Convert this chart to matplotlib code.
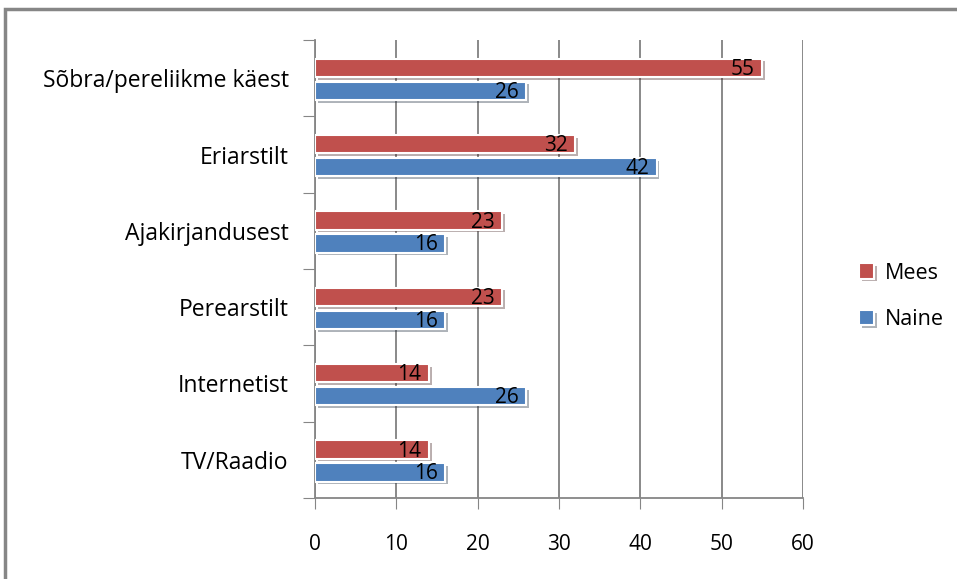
import matplotlib.pyplot as plt
import matplotlib.patheffects as pe
from matplotlib.patches import Rectangle
import numpy as np

# andmed
allikad = ["Sõbra/pereliikme käest", "Eriarstilt", "Ajakirjandusest",
           "Perearstilt", "Internetist", "TV/Raadio"]
mees = [55, 32, 23, 23, 14, 14]
naine = [26, 42, 16, 16, 26, 16]
xticks = [0, 10, 20, 30, 40, 50, 60]

punane = "#C0504D"
sinine = "#4F81BD"
hall = "#868686"

plt.rcParams['font.family'] = ['Open Sans', 'DejaVu Sans']

fig = plt.figure(figsize=(9.57, 5.79), dpi=100)
ax = fig.add_axes([315/957, 1-498/579, (803-315)/957, (498-40)/579])

n = len(allikad)
y = np.arange(n)[::-1]  # esimene kategooria üleval
h = 0.24
varj = [pe.SimplePatchShadow(offset=(2, -2), alpha=0.35), pe.Normal()]

b1 = ax.barh(y + 0.135, mees, height=h, color=punane, edgecolor="white",
             linewidth=1.5, label="Mees", zorder=3)
b2 = ax.barh(y - 0.165, naine, height=h, color=sinine, edgecolor="white",
             linewidth=1.5, label="Naine", zorder=3)
for b in list(b1) + list(b2):
    b.set_path_effects(varj)

for bars, vals in ((b1, mees), (b2, naine)):
    for b, v in zip(bars, vals):
        ax.text(v - 0.9, b.get_y() + b.get_height()/2 - 0.02, str(v),
                ha="right", va="center", fontsize=15, color="black", zorder=4)

ax.set_xlim(0, 60)
ax.set_ylim(-0.5, n - 0.5)
ax.set_xticks(xticks)
ax.set_xticklabels([str(t) for t in xticks], fontsize=15)
ax.tick_params(axis="x", length=8, color=hall, pad=18, direction="out")
ax.grid(axis="x", color="#808080", linewidth=1.3, zorder=0)

# y-telje kriipsud kategooriate piiridel, sildid keskel
ax.set_yticks(np.arange(-0.5, n, 1.0))
ax.set_yticklabels([])
ax.tick_params(axis="y", which="major", length=9, color=hall)
ax.set_yticks(y, minor=True)
ax.set_yticklabels(allikad, minor=True, fontsize=16.5)
ax.tick_params(axis="y", which="minor", length=0, pad=19)

for s in ("top", "right"):
    ax.spines[s].set_visible(False)
ax.spines["left"].set_color(hall)
ax.spines["bottom"].set_color(hall)
ax.spines["left"].set_linewidth(1.3)
ax.spines["bottom"].set_linewidth(1.3)

ax.legend(handles=[b1, b2], loc="center left", bbox_to_anchor=(1.115, 0.44),
          frameon=False, fontsize=15.5, handlelength=0.7, handleheight=0.7,
          labelspacing=1.2, handletextpad=0.5, borderpad=0, borderaxespad=0)

# diagrammi raam
fig.patches.append(Rectangle((5/957, -0.1), 1.1, 1 - 9/579 + 0.1,
                             transform=fig.transFigure, fill=False,
                             edgecolor=hall, linewidth=2.5))

fig.savefig("out.png", dpi=100)
